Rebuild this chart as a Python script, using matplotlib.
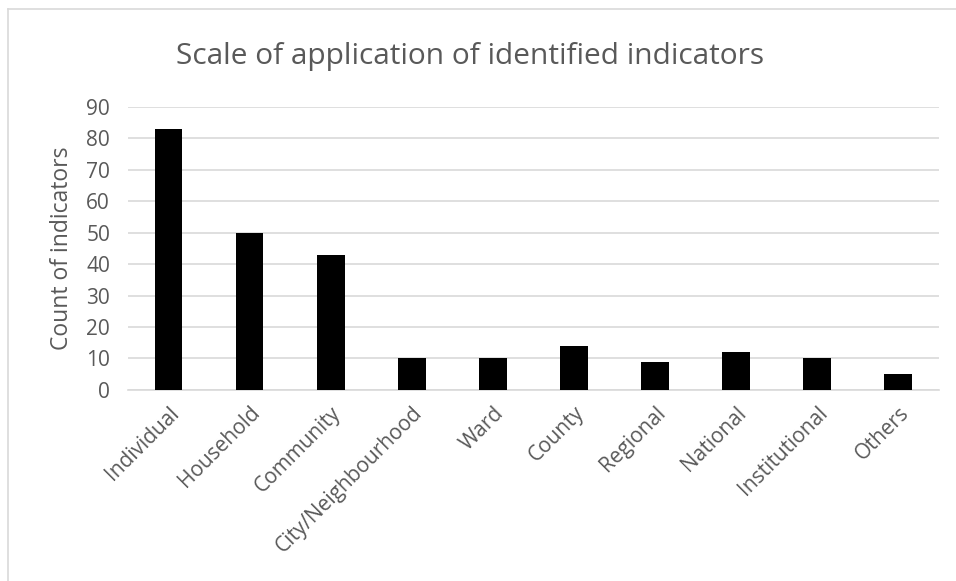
import matplotlib
matplotlib.use('Agg')
import matplotlib.pyplot as plt
from matplotlib.lines import Line2D
import numpy as np

plt.rcParams['font.family'] = ['Open Sans', 'DejaVu Sans']

categories = ['Individual', 'Household', 'Community', 'City/Neighbourhood', 'Ward',
              'County', 'Regional', 'National', 'Institutional', 'Others']
counts = [83, 50, 43, 10, 10, 14, 9, 12, 10, 5]
yticks = [0, 10, 20, 30, 40, 50, 60, 70, 80, 90]

grey = '#595959'

fig = plt.figure(figsize=(9.56, 5.81), dpi=100)
ax = fig.add_axes([0.134, 0.329, 0.848, 0.487])

x = np.arange(len(categories))
ax.bar(x, counts, width=0.34, color='black', zorder=3)

ax.set_xlim(-0.5, len(categories) - 0.5)
ax.set_ylim(0, 90)
ax.set_yticks(yticks)
ax.yaxis.grid(True, color='#d9d9d9', linewidth=1.2, zorder=0)
for s in ['top', 'right', 'left']:
    ax.spines[s].set_visible(False)
ax.spines['bottom'].set_color('#d9d9d9')
ax.spines['bottom'].set_linewidth(1.2)
ax.tick_params(axis='both', length=0, colors=grey, labelsize=15)
ax.tick_params(axis='y', pad=13)
ax.set_xticks(x)
ax.set_xticklabels(categories, rotation=45, ha='right', va='top', rotation_mode='anchor')
ax.tick_params(axis='x', pad=9)

ax.set_ylabel('Count of indicators', color=grey, fontsize=16.5, labelpad=9)

fig.text(0.492, 0.89, 'Scale of application of identified indicators',
         ha='center', va='baseline', fontsize=21.5, color=grey)

# chart area border (only top/left visible in the crop)
fig.add_artist(Line2D([0.0084, 0.0084], [0, 0.9845], color='#d9d9d9', linewidth=1.2))
fig.add_artist(Line2D([0.0084, 1.0], [0.9845, 0.9845], color='#d9d9d9', linewidth=1.2))

fig.savefig('out.png', dpi=100, facecolor='white')
